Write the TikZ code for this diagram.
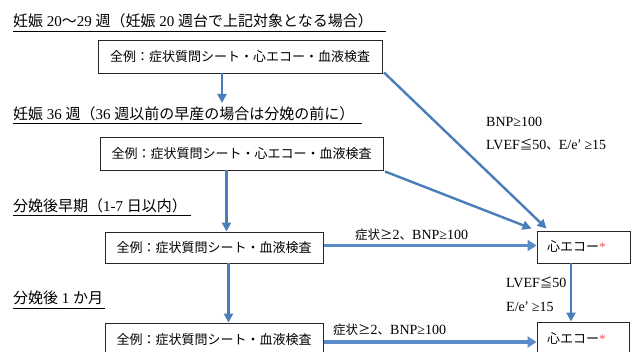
\documentclass[tikz,border=0pt]{standalone}
\usepackage{fontspec}
\setmainfont{Liberation Serif}
\newfontfamily\jp{Noto Sans CJK JP}
\newcommand{\jps}[1]{{\fontsize{12.5}{15}\selectfont\jp #1}}
\usetikzlibrary{arrows.meta,calc}
\definecolor{arrowblue}{HTML}{4A7EBB}
\definecolor{harrblue}{HTML}{5B8CC8}
\definecolor{astred}{HTML}{F0504A}
\begin{document}
\begin{tikzpicture}[x=1pt,y=-1pt,
 head/.style={anchor=base west,inner sep=0pt,font=\fontsize{15}{17}\selectfont},
 ul/.style={line width=0.8pt},
 box/.style={draw=black!85,line width=0.9pt,inner sep=0pt,font=\fontsize{13}{15}\selectfont},
 lab/.style={anchor=west,inner sep=0pt,font=\fontsize{14}{16}\selectfont},
 arr/.style={draw=arrowblue,line width=2.4pt,-{Triangle[length=9pt,width=9pt]}},
 harr/.style={draw=harrblue,line width=3.6pt,-{Triangle[length=9pt,width=11pt]}}]
\useasboundingbox (0,0) rectangle (637,352);

% headings
\node[head] (h1) at (13,27) {{\jp 妊娠} 20{\jp 〜}29 {\jp 週（妊娠} 20 {\jp 週台で上記対象となる場合）}};
\draw[ul] ($(h1.base west)+(0,4)$) -- ++(373,0);
\node[head] (h2) at (13,120) {{\jp 妊娠} 36 {\jp 週（}36 {\jp 週以前の早産の場合は分娩の前に）}};
\draw[ul] ($(h2.base west)+(0,3.5)$) -- ++(349,0);
\node[head] (h3) at (13,212) {{\jp 分娩後早期（}1-7 {\jp 日以内）}};
\draw[ul] ($(h3.base west)+(0,3.5)$) -- ++(178,0);
\node[head] (h4) at (13,304) {{\jp 分娩後} 1 {\jp か月}};
\draw[ul] ($(h4.base west)+(0,4)$) -- ++(92,0);

% boxes
\node[box,minimum width=284pt,minimum height=33pt] (b1) at (240,56.5) {\jp 全例：症状質問シート・心エコー・血液検査};
\node[box,minimum width=283pt,minimum height=33pt] (b2) at (241.5,153.5) {\jp 全例：症状質問シート・心エコー・血液検査};
\node[box,minimum width=218pt,minimum height=31pt] (b3) at (214,247.5) {\jp 全例：症状質問シート・血液検査};
\node[box,minimum width=218pt,minimum height=33pt] (b4) at (214,339.5) {\jp 全例：症状質問シート・血液検査};
\node[box,minimum width=93pt,minimum height=32pt] (bA) at (583.5,247) {\makebox[93pt][l]{\hspace{10pt}{\jp 心エコー}\textcolor{astred}{*}}};
\node[box,minimum width=92pt,minimum height=33pt] (bB) at (583,338.5) {\makebox[92pt][l]{\hspace{10pt}{\jp 心エコー}\textcolor{astred}{*}}};

% vertical arrows
\coordinate (t1) at (222,103);
\draw[arr] (b1.south -| t1) -- (t1);
\coordinate (c2) at (226.5,0);
\draw[arr] (b2.south -| c2) -- (b3.north -| c2);
\coordinate (c3) at (228.5,0);
\draw[arr] (b3.south -| c3) -- (b4.north -| c3);
\coordinate (c4) at (571,0);
\draw[arr] (bA.south -| c4) -- (bB.north -| c4);

% diagonal arrows
\draw[arr] ($(b1.south east)+(1.5,-1)$) -- ($(bA.north west)+(10,-2)$);
\draw[arr] ($(b2.south east)+(1.5,1)$) -- ($(bA.north west)+(-5,-2)$);

% horizontal arrows
\coordinate (hs1) at ($(b3.east)+(0.5,-2)$);
\draw[harr] (hs1) -- (bA.west |- hs1);
\coordinate (hs2) at ($(b4.east)+(0.5,2.5)$);
\draw[harr] (hs2) -- (bB.west |- hs2);

% labels
\node[lab] (l1) at (486,122) {BNP≥100};
\node[lab] (l2) at (486,145) {LVEF\jps{≦}50\jps{、}E/e\jps{’} ≥15};
\node[lab] (l3) at (355,235) {\jps{症状≥}2\jps{、}BNP≥100};
\node[lab] (l4) at (333,330) {\jps{症状≥}2\jps{、}BNP≥100};
\node[lab] (l5) at (506,283) {LVEF\jps{≦}50};
\node[lab] (l6) at (506,307) {E/e\jps{’} ≥15};
\end{tikzpicture}
\end{document}
